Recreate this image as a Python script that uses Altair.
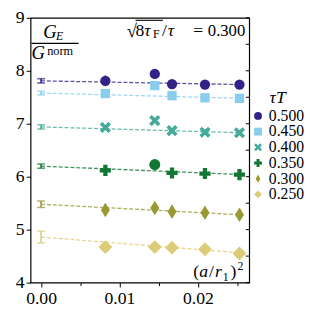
import altair as alt
import pandas as pd

# ---------------- data ----------------
series = ["0.500", "0.450", "0.400", "0.350", "0.300", "0.250"]
colors = ["#332288", "#88CCEE", "#44AA99", "#117733", "#999933", "#DDCC77"]
x_lat = [0.0082, 0.0145, 0.0167, 0.0209, 0.0253]

g_500 = [7.81, 7.94, 7.75, 7.74, 7.74]
g_450 = [7.57, 7.72, 7.53, 7.49, 7.48]
g_400 = [6.93, 7.06, 6.87, 6.84, 6.83]
g_350 = [6.12, 6.23, 6.07, 6.06, 6.04]
g_300 = [5.37, 5.41, 5.34, 5.32, 5.28]
g_250 = [4.67, 4.67, 4.66, 4.63, 4.55]

e_500 = [0.10, 0.04, 0.03, 0.03, 0.03]
e_450 = [0.04, 0.04, 0.03, 0.03, 0.03]
e_400 = [0.04, 0.04, 0.03, 0.03, 0.03]
e_350 = [0.07, 0.03, 0.03, 0.03, 0.03]
e_300 = [0.10, 0.06, 0.04, 0.04, 0.04]
e_250 = [0.04, 0.04, 0.04, 0.04, 0.04]

# continuum extrapolation (x = 0) and its error
cont_x = [0.0, 0.0, 0.0, 0.0, 0.0, 0.0]
cont_val = [7.81, 7.58, 6.94, 6.20, 5.48, 4.86]
cont_err = [0.04, 0.035, 0.04, 0.04, 0.06, 0.11]

# dashed fit lines: start / end
fit_x = [0.0, 0.0256]
fit_end = [7.74, 7.48, 6.83, 6.04, 5.28, 4.56]

# one point drawn with a circle instead of the series marker
odd_series = ["0.350"]
odd_index = [1]

y_ticks = [4, 4.5, 5, 5.5, 6, 6.5, 7, 7.5, 8, 8.5, 9]
x_ticks = [0.0, 0.005, 0.01, 0.015, 0.02, 0.025]

# marker shapes
X_PATH = "M-0.55,-1L0,-0.45L0.55,-1L1,-0.55L0.45,0L1,0.55L0.55,1L0,0.45L-0.55,1L-1,0.55L-0.45,0L-1,-0.55Z"
PLUS_PATH = "M-0.38,-1H0.38V-0.38H1V0.38H0.38V1H-0.38V0.38H-1V-0.38H-0.38Z"
THIN_D = "M0,-1L0.62,0L0,1L-0.62,0Z"
DIAM = "M0,-1L1,0L0,1L-1,0Z"
shapes = ["circle", "square", X_PATH, PLUS_PATH, THIN_D, DIAM]
sizes = [110, 90, 130, 130, 220, 200]

# ---------------- tables ----------------
gs = [g_500, g_450, g_400, g_350, g_300, g_250]
es = [e_500, e_450, e_400, e_350, e_300, e_250]
rows, odd_rows = [], []
for s, g, e, sz in zip(series, gs, es, sizes):
    for j, (x, v, d) in enumerate(zip(x_lat, g, e)):
        r = dict(series=s, x=x, g=v, lo=v - d, hi=v + d, sz=sz)
        if s in odd_series and j == odd_index[odd_series.index(s)]:
            odd_rows.append(r)
        else:
            rows.append(r)
pts = pd.DataFrame(rows)
odd = pd.DataFrame(odd_rows)
allpts = pd.DataFrame(rows + odd_rows)

cont = pd.DataFrame(dict(series=series, x=cont_x, g=cont_val,
                         lo=[v - e for v, e in zip(cont_val, cont_err)],
                         hi=[v + e for v, e in zip(cont_val, cont_err)]))
fit = pd.DataFrame([dict(series=s, x=fx, g=(v0 if k == 0 else v1))
                    for s, v0, v1 in zip(series, cont_val, fit_end)
                    for k, fx in enumerate(fit_x)])

W, H = 223, 270
FONT = "Liberation Serif"

xs = alt.Scale(domain=[-0.00134, 0.02654], nice=False, zero=False)
ys = alt.Scale(domain=[4, 9], nice=False, zero=False)
cs = alt.Scale(domain=series, range=colors)

X = alt.X("x:Q", scale=xs, title=None,
          axis=alt.Axis(values=x_ticks, format=".2f", grid=False, domain=False,
                        labelExpr="round(datum.value*200) % 2 === 0 ? datum.label : ''",
                        tickSize={"condition": {"test": "round(datum.value*200) % 2 === 0", "value": 4.5}, "value": 3},
                        labelFont=FONT, labelFontSize=18, labelColor="black",
                        tickColor="black", labelPadding=3))
Y = alt.Y("g:Q", scale=ys, title=None,
          axis=alt.Axis(values=y_ticks, format="d", grid=False, domain=False,
                        labelExpr="datum.value % 1 === 0 ? datum.label : ''",
                        tickSize={"condition": {"test": "datum.value % 1 === 0", "value": 4.5}, "value": 3},
                        labelFont=FONT, labelFontSize=18, labelColor="black",
                        tickColor="black", labelPadding=2))
C = alt.Color("series:N", scale=cs, title="τT",
              legend=alt.Legend(orient="none", legendX=224, legendY=73,
                                titleFont=FONT, titleFontSize=18, titleFontStyle="italic",
                                titleFontWeight="normal", titleAnchor="middle", titleAlign="center",
                                titlePadding=1, titleColor="black",
                                labelFont=FONT, labelFontSize=16, labelColor="black",
                                labelOffset=3, rowPadding=0, symbolSize=64,
                                symbolStrokeWidth=0, symbolOpacity=1))

fit_layer = alt.Chart(fit).mark_line(strokeDash=[4, 2], strokeWidth=1.3, opacity=0.8).encode(
    x=X, y=Y, color=C, detail="series:N")

cont_rule = alt.Chart(cont).mark_rule(strokeWidth=1.6).encode(
    x=X, y=alt.Y("lo:Q", scale=ys), y2="hi:Q", color=C)
cont_lo = alt.Chart(cont).mark_tick(orient="horizontal", size=8, thickness=1.6).encode(
    x=X, y=alt.Y("lo:Q", scale=ys), color=C)
cont_hi = alt.Chart(cont).mark_tick(orient="horizontal", size=8, thickness=1.6).encode(
    x=X, y=alt.Y("hi:Q", scale=ys), color=C)

err_layer = alt.Chart(allpts).mark_rule(strokeWidth=1.6).encode(
    x=X, y=alt.Y("lo:Q", scale=ys), y2="hi:Q", color=C)

pt_layer = alt.Chart(pts).mark_point(filled=True, opacity=1).encode(
    x=X, y=Y, color=C,
    shape=alt.Shape("series:N", scale=alt.Scale(domain=series, range=shapes), title="τT"),
    size=alt.Size("sz:Q", scale=None))

odd_layer = alt.Chart(odd).mark_point(filled=True, opacity=1, shape="circle", size=125).encode(
    x=X, y=Y, color=alt.Color("series:N", scale=cs, legend=None))

right_ticks = alt.Chart(pd.DataFrame(dict(t=y_ticks))).mark_rule(color="black", strokeWidth=1).encode(
    y=alt.Y("t:Q", scale=ys), x=alt.value(W - 3.5), x2=alt.value(W))


def txt(s, x, y, size, style="normal", align="left"):
    return alt.Chart(alt.Data(values=[{}])).mark_text(
        text=s, font=FONT, fontSize=size, fontStyle=style, align=align,
        baseline="alphabetic", color="black").encode(x=alt.value(x), y=alt.value(y))


def hline(x1, x2, y, w=1.1):
    return alt.Chart(alt.Data(values=[{}])).mark_rule(color="black", strokeWidth=w).encode(
        x=alt.value(x1), x2=alt.value(x2), y=alt.value(y))


ann = [
    # G_E / G^norm
    txt("G", 13, 21, 19, "italic"),
    txt("E", 26, 22.5, 12, "italic"),
    hline(1, 49, 26),
    txt("G", 1, 42, 19, "italic"),
    txt("norm", 17, 37.5, 12.5),
    # sqrt(8 tau_F)/tau = 0.300
    txt("√", 98, 20, 19),
    hline(107, 135, 2.5),
    txt("8", 107, 18, 18),
    txt("τ", 116, 18, 18, "italic"),
    txt("F", 125, 21, 12),
    txt("/", 134, 18, 18),
    txt("τ", 140, 18, 18, "italic"),
    txt("=", 166, 18, 18),
    txt("0.300", 219, 18, 17, align="right"),
    # (a/r_1)^2
    txt("(", 166, 264, 18),
    txt("a", 172, 264, 18, "italic"),
    txt("/", 182, 264, 18),
    txt("r", 188, 264, 18, "italic"),
    txt("1", 196, 268, 12),
    txt(")", 204, 264, 18),
    txt("2", 211, 257, 12),
]

chart = alt.layer(fit_layer, cont_rule, cont_lo, cont_hi, err_layer, pt_layer, odd_layer,
                  right_ticks, *ann).resolve_scale(color="shared").properties(
    width=W, height=H,
    autosize=alt.AutoSizeParams(type="none"),
    padding={"left": 23, "top": 7, "right": 62, "bottom": 30},
).configure(font=FONT).configure_view(stroke="black", strokeWidth=1.2)

chart.save("out.html", embed_options={"renderer": "svg", "actions": False})
